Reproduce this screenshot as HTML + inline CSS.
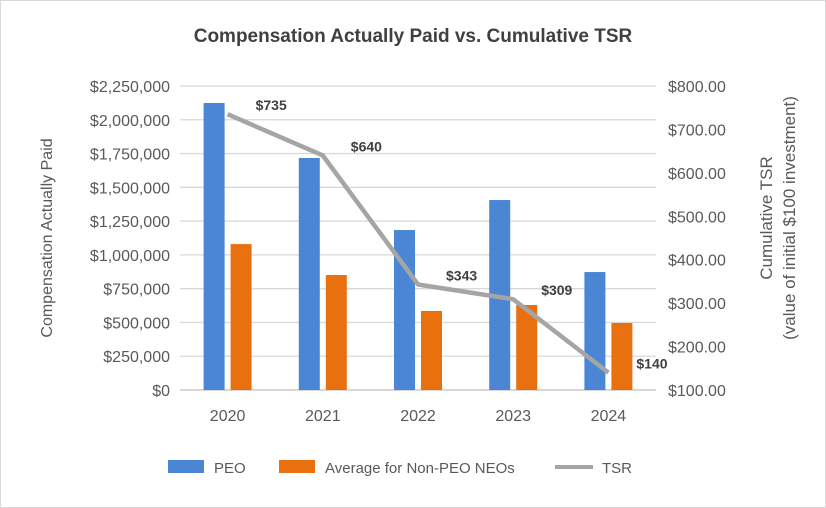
<!DOCTYPE html>
<html><head><meta charset="utf-8"><style>
body{margin:0;background:#fff;}
svg{display:block;font-family:"Liberation Sans",sans-serif;}
</style></head><body>
<svg id="chart" width="826" height="508" viewBox="0 0 826 508">
<rect x="0.5" y="0.5" width="825" height="507" fill="#fff" stroke="#d9d9d9"/>
<text x="413" y="42" text-anchor="middle" font-size="19" font-weight="bold" fill="#404040">Compensation Actually Paid vs. Cumulative TSR</text>
<g id="grid"></g><g id="bars"></g><g id="line"></g><g id="axes"></g>
<text transform="translate(52,238) rotate(-90)" text-anchor="middle" font-size="16" fill="#595959">Compensation Actually Paid</text>
<text transform="translate(772,218) rotate(-90)" text-anchor="middle" font-size="17" fill="#595959"><tspan x="0" dy="0">Cumulative TSR</tspan><tspan x="0" dy="23">(value of initial $100 investment)</tspan></text>
<g>
<rect x="168" y="460" width="36" height="13" fill="#4a86d4"/>
<text x="214" y="473" font-size="15" fill="#595959">PEO</text>
<rect x="279" y="460" width="36" height="13" fill="#e8700f"/>
<text x="325" y="473" font-size="15" fill="#595959">Average for Non-PEO NEOs</text>
<line x1="555" y1="467" x2="593" y2="467" stroke="#a5a5a5" stroke-width="4"/>
<text x="602" y="473" font-size="15" fill="#595959">TSR</text>
</g>
</svg>
<script>
const categories=["2020","2021","2022","2023","2024"];
const peo=[2124000,1717000,1184000,1406000,873000];
const neo=[1080000,851000,585000,629000,496000];
const tsr=[735,640,343,309,140];
const tsrLabels=["$735","$640","$343","$309","$140"];
const leftTicks=[0,250000,500000,750000,1000000,1250000,1500000,1750000,2000000,2250000];
const rightTicks=[100,200,300,400,500,600,700,800];
const NS="http://www.w3.org/2000/svg";
const L=180,R=656,T=86,B=390;
const yL=v=>B-v/2250000*(B-T);
const yR=v=>B-(v-100)/700*(B-T);
const step=(R-L)/categories.length;
const xC=i=>L+step*(i+0.5);
function mk(p,tag,a,txt){const e=document.createElementNS(NS,tag);for(const k in a)e.setAttribute(k,a[k]);if(txt!=null)e.textContent=txt;document.getElementById(p).appendChild(e);return e;}
const fmt=v=>"$"+v.toLocaleString("en-US");
leftTicks.forEach(v=>{
 const g=mk("grid","line",{x1:L,x2:R,y1:yL(v),y2:yL(v),stroke:v===0?"#bfbfbf":"#d9d9d9","stroke-width":1.3});
 
 
 const t=mk("axes","text",{x:L-10,y:yL(v)+6,"text-anchor":"end","font-size":16,fill:"#595959"},fmt(v));
 
 
});
rightTicks.forEach(v=>{
 const t=mk("axes","text",{x:R+12,y:yR(v)+6,"font-size":16,fill:"#595959"},"$"+v.toFixed(2));
 
 
});
categories.forEach((c,i)=>{
 const t=mk("axes","text",{x:xC(i),y:B+31,"text-anchor":"middle","font-size":16,fill:"#595959"},c);
 
 
 const b1=mk("bars","rect",{x:xC(i)-24,y:yL(peo[i]),width:21,height:B-yL(peo[i]),fill:"#4a86d4"});
 
 
 const b2=mk("bars","rect",{x:xC(i)+3,y:yL(neo[i]),width:21,height:B-yL(neo[i]),fill:"#e8700f"});
 
 
 const lb=mk("line","text",{x:xC(i)+28,y:yR(tsr[i])-4,"font-size":14,"font-weight":"bold",fill:"#404040"},tsrLabels[i]);
 
 
});
const pl=mk("line","polyline",{points:tsr.map((v,i)=>xC(i)+","+yR(v)).join(" "),fill:"none",stroke:"#a5a5a5","stroke-width":4.5,"stroke-linejoin":"round"});


document.getElementById("line").insertBefore(pl,document.getElementById("line").firstChild);
</script>
</body></html>
